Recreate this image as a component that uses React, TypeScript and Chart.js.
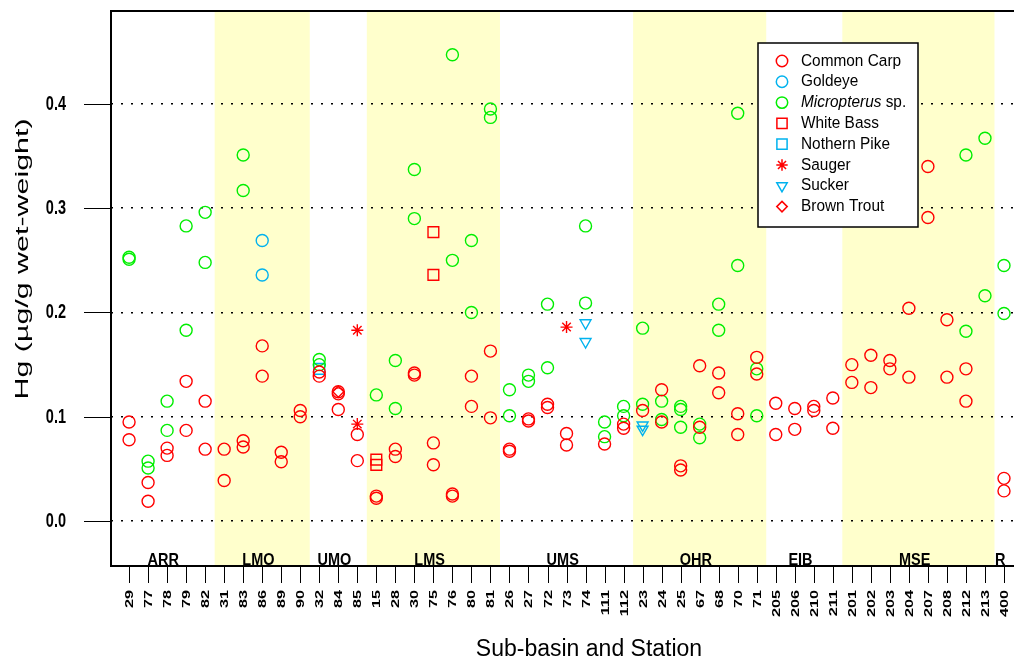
import React, { useEffect, useRef } from 'react';
import { Chart, registerables } from 'chart.js';
import { drawPoint } from 'chart.js/helpers';

Chart.register(...registerables);

// ---------- data ----------
const stations = ['29','77','78','79','82','31','83','86','89','90','32','84','85','15','28','30','75','76','80','81','26','27','72','73','74','111','112','23','24','25','67','68','70','71','205','206','210','211','201','202','203','204','207','208','212','213','400'];
const groups = ['ARR','LMO','UMO','LMS','UMS','OHR','EIB','MSE','R'];
const groupSizes = [5, 5, 3, 7, 7, 7, 4, 8, 1];
const shadedGroups = ['LMO','LMS','OHR','MSE'];
const yTicks = [0, 0.1, 0.2, 0.3, 0.4];
const yTickLabels = ['0.0','0.1','0.2','0.3','0.4'];

const commonCarp: [string, number][] = [
  ['29',0.095],['29',0.078],['77',0.037],['77',0.019],['78',0.070],['78',0.063],['79',0.134],['79',0.087],
  ['82',0.115],['82',0.069],['31',0.069],['31',0.039],['83',0.077],['83',0.071],['86',0.168],['86',0.139],
  ['89',0.066],['89',0.057],['90',0.106],['90',0.100],['32',0.143],['32',0.139],['84',0.124],['84',0.122],['84',0.107],
  ['85',0.083],['85',0.058],['15',0.024],['15',0.022],['28',0.069],['28',0.062],['30',0.142],['30',0.140],
  ['75',0.075],['75',0.054],['76',0.026],['76',0.024],['80',0.139],['80',0.110],['81',0.163],['81',0.099],
  ['26',0.069],['26',0.067],['27',0.098],['27',0.096],['72',0.112],['72',0.109],['73',0.084],['73',0.073],
  ['111',0.074],['112',0.093],['112',0.089],['23',0.106],['24',0.126],['24',0.095],['25',0.053],['25',0.049],
  ['67',0.149],['67',0.090],['68',0.142],['68',0.123],['70',0.103],['70',0.083],['71',0.157],['71',0.141],
  ['205',0.113],['205',0.083],['206',0.108],['206',0.088],['210',0.110],['210',0.106],['211',0.118],['211',0.089],
  ['201',0.150],['201',0.133],['202',0.159],['202',0.128],['203',0.154],['203',0.146],['204',0.204],['204',0.138],
  ['207',0.340],['207',0.291],['208',0.193],['208',0.138],['212',0.146],['212',0.115],['400',0.041],['400',0.029],
];
const goldeye: [string, number][] = [['86',0.269],['86',0.236]];
const micropterus: [string, number][] = [
  ['29',0.253],['29',0.251],['77',0.0575],['77',0.051],['78',0.115],['78',0.087],['79',0.283],['79',0.183],
  ['82',0.296],['82',0.248],['83',0.351],['83',0.317],['32',0.155],['32',0.150],['15',0.121],['28',0.154],['28',0.108],
  ['30',0.337],['30',0.290],['76',0.447],['76',0.250],['80',0.269],['80',0.200],['81',0.395],['81',0.387],
  ['26',0.126],['26',0.101],['27',0.140],['27',0.134],['72',0.208],['72',0.147],['74',0.283],['74',0.209],
  ['111',0.095],['111',0.081],['112',0.110],['112',0.101],['23',0.185],['23',0.112],['24',0.115],['24',0.0975],
  ['25',0.110],['25',0.107],['25',0.090],['67',0.093],['67',0.080],['68',0.208],['68',0.183],['70',0.391],['70',0.245],
  ['71',0.146],['71',0.101],['212',0.351],['212',0.182],['213',0.367],['213',0.216],['400',0.245],['400',0.199],
];
const whiteBass: [string, number][] = [['15',0.059],['15',0.054],['75',0.277],['75',0.236]];
const northernPike: [string, number][] = [['32',0.146]];
const sauger: [string, number][] = [['85',0.183],['85',0.093],['73',0.186]];
const sucker: [string, number][] = [['74',0.190],['74',0.172],['23',0.092],['23',0.088]];
const brownTrout: [string, number][] = [['84',0.124]];

const seriesNames = ['Common Carp','Goldeye','Micropterus sp.','White Bass','Nothern Pike','Sauger','Sucker','Brown Trout'];
const allSeries = [commonCarp, goldeye, micropterus, whiteBass, northernPike, sauger, sucker, brownTrout];

// ---------- styles ----------
const RED = '#FF0000', BLUE = '#00B2EE', GREEN = '#00EE00';
const seriesStyles = [
  { color: RED, style: 'circle', r: 6, rot: 0, italic: false },
  { color: BLUE, style: 'circle', r: 6, rot: 0, italic: false },
  { color: GREEN, style: 'circle', r: 6, rot: 0, italic: true },
  { color: RED, style: 'rect', r: 7.6, rot: 0, italic: false },
  { color: BLUE, style: 'rect', r: 7.6, rot: 0, italic: false },
  { color: RED, style: 'star', r: 6, rot: 0, italic: false },
  { color: BLUE, style: 'triangle', r: 6.3, rot: 180, italic: false },
  { color: RED, style: 'rectRot', r: 5.5, rot: 0, italic: false },
];
const FONT = '"Liberation Sans", Arial, Helvetica, sans-serif';

function txt(ctx: CanvasRenderingContext2D, s: string, x: number, y: number, o: any) {
  ctx.save();
  ctx.translate(x, y);
  if (o.rot) ctx.rotate(o.rot);
  ctx.scale(o.sx ?? 1, o.sy ?? 1);
  ctx.font = o.font;
  ctx.textAlign = o.align ?? 'left';
  ctx.textBaseline = o.baseline ?? 'alphabetic';
  ctx.fillStyle = o.color ?? '#000';
  ctx.fillText(s, 0, 0);
  ctx.restore();
}

const decor = {
  id: 'decor',
  beforeDraw(chart: any) {
    const { ctx, chartArea: a, scales: { x } } = chart;
    ctx.save();
    ctx.fillStyle = '#FFFFCC';
    let start = 0;
    groups.forEach((g, gi) => {
      const n = groupSizes[gi];
      if (shadedGroups.includes(g)) {
        const x0 = x.getPixelForValue(start - 0.5);
        const x1 = x.getPixelForValue(start + n - 0.5);
        ctx.fillRect(x0, a.top, x1 - x0, a.bottom - a.top);
      }
      start += n;
    });
    ctx.restore();
  },
  afterDraw(chart: any) {
    const { ctx, chartArea: a, scales: { x, y } } = chart;
    ctx.save();
    // frame (left, top, bottom)
    ctx.strokeStyle = '#000';
    ctx.lineWidth = 2;
    ctx.beginPath();
    ctx.moveTo(chart.width, a.top);
    ctx.lineTo(a.left, a.top);
    ctx.lineTo(a.left, a.bottom);
    ctx.lineTo(chart.width, a.bottom);
    ctx.stroke();

    // y ticks + labels
    ctx.lineWidth = 1;
    yTicks.forEach((v, i) => {
      const py = Math.round(y.getPixelForValue(v)) + 0.5;
      ctx.beginPath();
      ctx.moveTo(a.left - 27, py);
      ctx.lineTo(a.left, py);
      ctx.stroke();
      txt(ctx, yTickLabels[i], 66, py, { font: `bold 14.5px ${FONT}`, align: 'right', baseline: 'middle', sy: 1.45 });
    });

    // x ticks + labels
    stations.forEach((s, i) => {
      const px = Math.round(x.getPixelForValue(i)) + 0.5;
      ctx.beginPath();
      ctx.moveTo(px, a.bottom);
      ctx.lineTo(px, a.bottom + 17);
      ctx.stroke();
      txt(ctx, s, px, 590, { font: `bold 11.6px ${FONT}`, align: 'right', baseline: 'middle', rot: -Math.PI / 2, sx: 1.4 });
    });

    // group labels
    let start = 0;
    groups.forEach((g, gi) => {
      const n = groupSizes[gi];
      const cx = x.getPixelForValue(start + (n - 1) / 2 - 0.2);
      txt(ctx, g, cx, 565, { font: `bold 14.5px ${FONT}`, align: 'center', baseline: 'alphabetic', sy: 1.15 });
      start += n;
    });

    // axis titles
    txt(ctx, 'Sub-basin and Station', 589, 656, { font: `23px ${FONT}`, align: 'center', baseline: 'alphabetic' });
    txt(ctx, 'Hg (\u00b5g/g wet-weight)', 23, 259, { font: `19px ${FONT}`, align: 'center', baseline: 'middle', rot: -Math.PI / 2, sx: 1.6 });

    // legend
    const lx = 758, ly = 43, lw = 160, lh = 184;
    ctx.fillStyle = '#fff';
    ctx.fillRect(lx, ly, lw, lh);
    ctx.lineWidth = 1.5;
    ctx.strokeStyle = '#000';
    ctx.strokeRect(lx, ly, lw, lh);
    seriesNames.forEach((name, k) => {
      const st = seriesStyles[k];
      const yy = 61 + k * 20.8;
      ctx.save();
      ctx.strokeStyle = st.color;
      ctx.fillStyle = 'rgba(0,0,0,0)';
      drawPoint(ctx, { pointStyle: st.style, radius: st.r * 0.95, rotation: st.rot, borderWidth: 1.4 } as any, 782, yy);
      ctx.restore();
      if (st.italic) {
        const sp = name.indexOf(' ');
        const first = name.slice(0, sp), rest = name.slice(sp);
        ctx.save();
        ctx.font = `italic 15.4px ${FONT}`;
        const w = ctx.measureText(first).width;
        ctx.restore();
        txt(ctx, first, 801, yy, { font: `italic 15.4px ${FONT}`, baseline: 'middle', sy: 1.06 });
        txt(ctx, rest, 801 + w, yy, { font: `15.4px ${FONT}`, baseline: 'middle', sy: 1.06 });
      } else {
        txt(ctx, name, 801, yy, { font: `15.4px ${FONT}`, baseline: 'middle', sy: 1.06 });
      }
    });
    ctx.restore();
  },
};

export default function App() {
  const ref = useRef<HTMLCanvasElement>(null);
  useEffect(() => {
    const chart = new Chart(ref.current as HTMLCanvasElement, {
      type: 'scatter',
      data: {
        datasets: allSeries.map((d, k) => ({
          label: seriesNames[k],
          data: d.map(([s, v]) => ({ x: stations.indexOf(s), y: v })),
          pointStyle: seriesStyles[k].style as any,
          pointRadius: seriesStyles[k].r,
          pointHoverRadius: seriesStyles[k].r,
          pointRotation: seriesStyles[k].rot,
          pointBorderColor: seriesStyles[k].color,
          pointBackgroundColor: 'rgba(0,0,0,0)',
          pointBorderWidth: 1.4,
          showLine: false,
        })),
      },
      options: {
        responsive: false,
        animation: false,
        events: [],
        layout: { autoPadding: false, padding: { left: 111, top: 11, right: 0, bottom: 93 } },
        plugins: { legend: { display: false }, tooltip: { enabled: false } },
        scales: {
          x: {
            type: 'linear', min: -0.95, max: 46.526, display: false,
          },
          y: {
            type: 'linear', min: -0.043, max: 0.489,
            afterBuildTicks: (s: any) => { s.ticks = yTicks.map((v) => ({ value: v })); },
            ticks: { display: false },
            grid: { color: '#000', lineWidth: 1.5, drawTicks: false },
            border: { display: false, dash: [2, 8] },
          },
        },
      },
      plugins: [decor],
    } as any);
    return () => chart.destroy();
  }, []);
  return (
    <div style={{ position: 'absolute', left: 0, top: 0, width: 1014, height: 659, overflow: 'hidden' }}>
      <canvas ref={ref} width={1014} height={659} style={{ display: 'block' }} />
    </div>
  );
}
